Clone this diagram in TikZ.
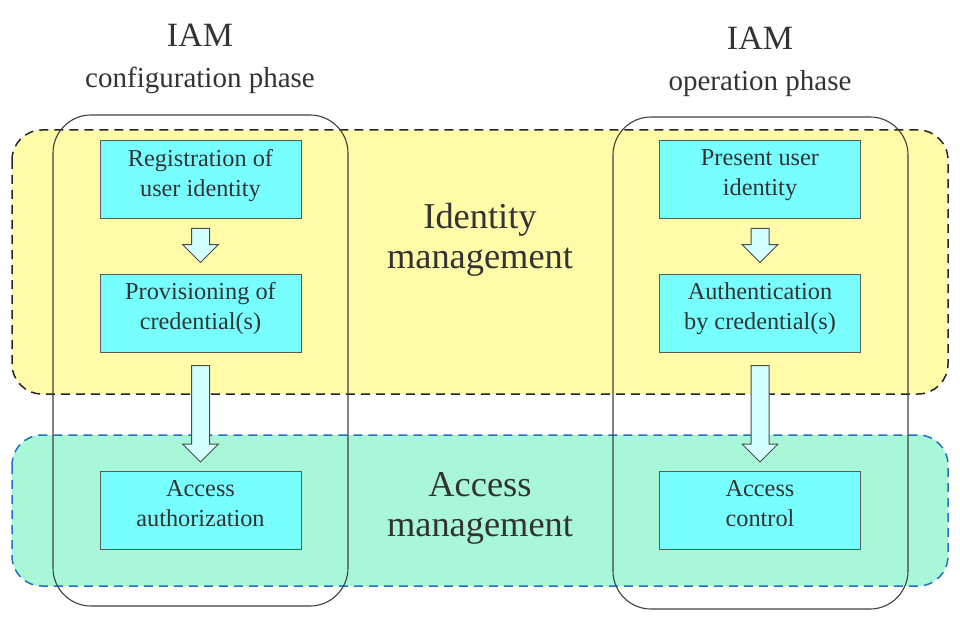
\documentclass[tikz,border=0pt]{standalone}
\usepackage{fontspec}
\setmainfont{Liberation Serif}
\usetikzlibrary{calc}

\definecolor{bandyellow}{RGB}{255,251,168}
\definecolor{bandgreen}{RGB}{168,248,216}
\definecolor{boxcyan}{RGB}{119,255,255}
\definecolor{arrowcyan}{RGB}{210,255,255}
\definecolor{dashblue}{RGB}{32,112,200}
\definecolor{txtgray}{RGB}{51,51,51}

\tikzset{
  band/.style={rounded corners=30pt, line width=1.5pt, dash pattern=on 9pt off 6pt},
  phase/.style={draw=black!75, line width=1.1pt, rounded corners=38pt},
  stepbox/.style={draw=black!65, line width=1pt, fill=boxcyan, minimum width=201pt,
    minimum height=78pt, text depth=14pt, align=center, text=txtgray,
    font=\fontsize{24.3}{30}\selectfont},
  barrow/.style={draw=black!70, line width=1pt, fill=arrowcyan, line join=miter},
  title/.style={text=txtgray, font=\fontsize{34}{38}\selectfont},
  subtitle/.style={text=txtgray, font=\fontsize{29}{32}\selectfont},
  bandlabel/.style={align=center, text=txtgray, font=\fontsize{36.4}{40}\selectfont}
}

% block arrow from one box down to another
\newcommand\blockarrow[4]{%
  \draw[barrow] ($(#1.south)+(-9,#3)$) -- ($(#2.north)+(-9,-#4-18)$)
    -- ++(-9,0) -- ($(#2.north)+(0,-#4)$) -- ++(18,-18) -- ++(-9,0)
    -- ($(#1.south)+(9,#3)$) -- cycle;}

\begin{document}
\begin{tikzpicture}[x=1pt, y=-1pt]
  \useasboundingbox (0,0) rectangle (960,620);

  % bands
  \draw[band, fill=bandyellow, draw=black!85] (12,130) rectangle (948,394);
  \draw[band, fill=bandgreen, draw=dashblue] (12,435) rectangle (948,586);

  % phases
  \draw[phase] (53,115) rectangle (348,606);
  \draw[phase] (613,117) rectangle (908,609);

  % titles
  \node[title] (iamL) at (200,35) {IAM};
  \node[subtitle] (confL) at (200,80) {configuration phase};
  \node[title] (iamR) at (760,38) {IAM};
  \node[subtitle] (operR) at (760,84) {operation phase};

  \node[bandlabel] (idm) at (480,240) {Identity\\management};
  \node[bandlabel] (acm) at (480,508) {Access\\management};

  % left column
  \node[stepbox] (reg) at (200.5,180) {Registration of\\user identity};
  \node[stepbox] (prov) at (200.5,313) {Provisioning of\\credential(s)};
  \node[stepbox] (auth) at (200.5,510.5) {Access\\authorization};

  % right column
  \node[stepbox] (pres) at (760,180) {Present user\\identity};
  \node[stepbox] (authc) at (760,313) {Authentication\\by credential(s)};
  \node[stepbox] (ctrl) at (760,510.5) {Access\\control};

  % arrows
  \blockarrow{reg}{prov}{9}{11}
  \blockarrow{prov}{auth}{13}{9}
  \blockarrow{pres}{authc}{9}{11}
  \blockarrow{authc}{ctrl}{13}{9}
\end{tikzpicture}
\end{document}
